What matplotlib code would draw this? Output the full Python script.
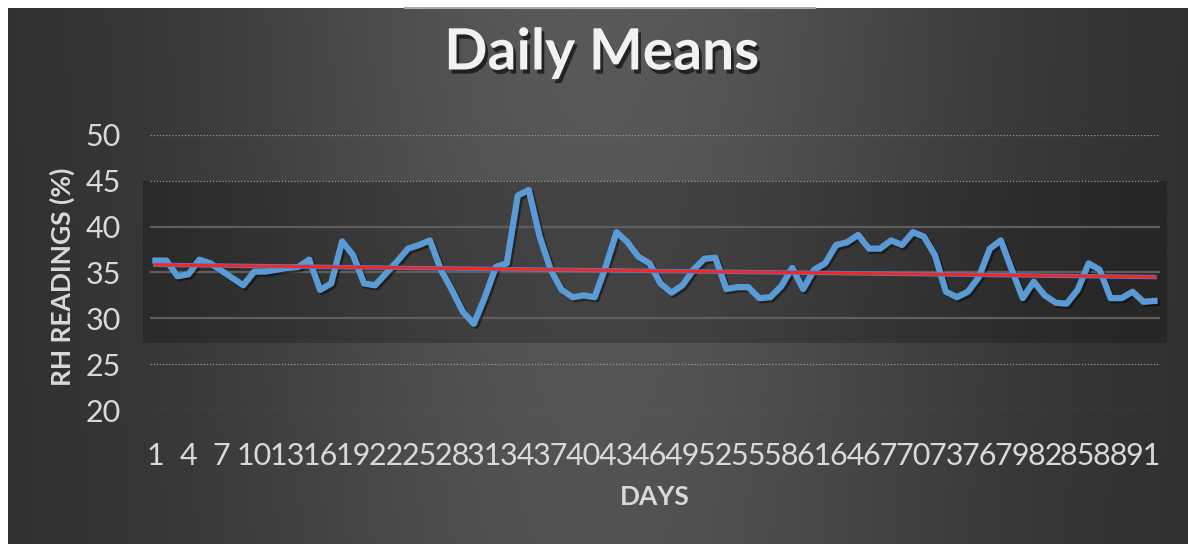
import numpy as np
import matplotlib.pyplot as plt
import matplotlib.patheffects as pe
from matplotlib.patches import Rectangle
from matplotlib.lines import Line2D

# daily mean RH readings
days = list(range(1, 93))
rh = [36.3, 36.3, 34.6, 34.8, 36.4, 36.0, 35.2, 34.4, 33.6, 35.1,
      35.1, 35.3, 35.5, 35.6, 36.4, 33.1, 33.8, 38.4, 36.9, 33.8,
      33.6, 34.9, 36.2, 37.6, 38.0, 38.5, 35.3, 33.1, 30.7, 29.4,
      32.3, 35.6, 36.0, 43.4, 44.0, 38.9, 35.3, 33.1, 32.3, 32.5,
      32.3, 35.6, 39.4, 38.3, 36.7, 36.0, 33.8, 32.8, 33.6, 35.3,
      36.5, 36.6, 33.2, 33.4, 33.4, 32.2, 32.3, 33.5, 35.5, 33.2,
      35.3, 36.0, 38.0, 38.3, 39.1, 37.6, 37.6, 38.5, 38.0, 39.4,
      38.9, 36.9, 32.9, 32.3, 32.9, 34.5, 37.6, 38.5, 35.3, 32.2,
      34.0, 32.5, 31.7, 31.6, 33.1, 36.0, 35.3, 32.2, 32.2, 32.9,
      31.8, 31.9]
y_ticks = [20, 25, 30, 35, 40, 45, 50]
x_ticks = days[::3]

plt.rcParams["font.family"] = ["Lato", "DejaVu Sans"]
txt = "#d9d9d9"

fig = plt.figure(figsize=(11.88, 5.44), dpi=100, facecolor="white")

# dark gradient background panel
bg = fig.add_axes([8 / 1188, 0, 1 - 8 / 1188, 1 - 8 / 544])
gx = np.linspace(0, 1, 400)
gy = np.linspace(0, 1, 200)
X, Y = np.meshgrid(gx, gy)
shade = 0.18 + 0.17 * np.exp(-((X - 0.5) / 0.32) ** 2) * (1 - 0.15 * Y)
bg.imshow(shade, cmap="gray", vmin=0, vmax=1, aspect="auto",
          extent=[0, 1, 1, 0], interpolation="bicubic")
bg.set_axis_off()
fig.add_artist(Line2D([405 / 1188, 815 / 1188], [1 - 8 / 544] * 2,
                      color="#aaaaaa", lw=1.5))

ax = fig.add_axes([150 / 1188, 1 - 410 / 544, 1010 / 1188, 275 / 544])
ax.patch.set_alpha(0)

# darker inner band
band = Rectangle((-0.007, 27.3), 1.014, 45 - 27.3,
                 transform=ax.get_yaxis_transform(), color="black",
                 alpha=0.22, lw=0, clip_on=False, zorder=0)
ax.add_patch(band)

for t in y_ticks:
    if 27.3 < t < 45:
        ax.axhline(t, color="#5e5e5e", lw=1.6, zorder=1)
    else:
        ax.axhline(t, color="#9a9a9a", lw=0.9, ls=(0, (1, 1.5)), zorder=1)

shadow = [pe.SimpleLineShadow(offset=(1.5, -1.5), shadow_color="black", alpha=0.45),
          pe.Normal()]
ax.plot(days, rh, color="#5b9bd5", lw=4.5, solid_joinstyle="round",
        path_effects=shadow, zorder=3)

k, b = np.polyfit(days, rh, 1)
trend = [k * d + b for d in days]
ax.plot(days, trend, color="#4f81bd", lw=3.2, zorder=4)
ax.plot(days, trend, color="#ff2020", lw=2.0, zorder=5)

ax.set_xlim(0.5, 92.5)
ax.set_ylim(20, 50)
ax.set_yticks(y_ticks)
ax.set_xticks(x_ticks)
ax.tick_params(axis="both", length=0, colors=txt, labelsize=22)
ax.tick_params(axis="x", pad=23)
ax.tick_params(axis="y", pad=21)
for s in ax.spines.values():
    s.set_visible(False)

fig.text(62 / 1188, 1 - 277 / 544, "RH READINGS (%)", rotation=90, color=txt,
         fontsize=19, fontweight="bold", ha="center", va="center")
fig.text(655 / 1188, 1 - 497 / 544, "DAYS", color=txt, fontsize=19,
         fontweight="bold", ha="center", va="center")
fig.text(602 / 1188, 1 - 53 / 544, "Daily Means", color="#f2f2f2", fontsize=41,
         fontweight="bold", ha="center", va="center",
         path_effects=[pe.withSimplePatchShadow(offset=(2, -3), shadow_rgbFace="black",
                                                alpha=0.6)])

fig.savefig("out.png", dpi=100, facecolor=fig.get_facecolor())
